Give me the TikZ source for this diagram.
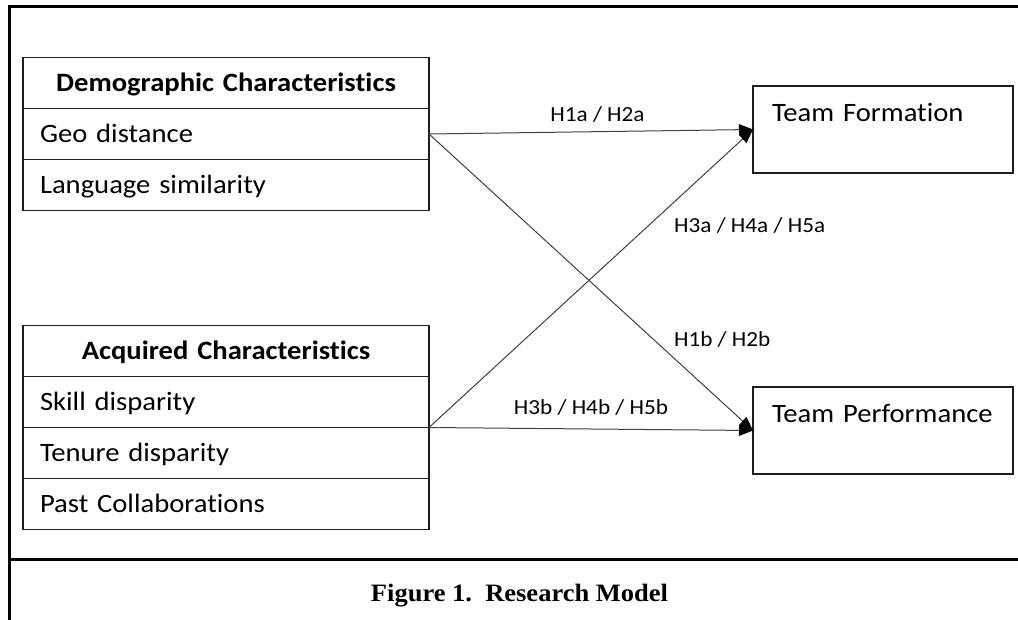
\documentclass[tikz,border=0pt]{standalone}
\usepackage{fontspec}
\setmainfont{Carlito}[FakeStretch=1.08,Ligatures=NoCommon]
\newfontfamily\capfont{Liberation Serif}[FakeStretch=1.06]
\usetikzlibrary{arrows.meta,positioning}
\definecolor{cLine}{HTML}{404040}
\definecolor{cBox}{HTML}{1E1E1E}

\begin{document}
\begin{tikzpicture}[
  x=1pt,y=-1pt,
  font=\fontsize{26.5}{32}\selectfont,
  row/.style ={draw=cBox,line width=1.8pt,outer sep=0pt,text width=372pt,
               inner xsep=17pt,inner ysep=0pt,text height=34pt,text depth=17pt,align=left},
  head/.style={row,align=center,font=\fontsize{26.5}{32}\selectfont\bfseries},
  outc/.style={draw=cBox,line width=1.8pt,outer sep=0pt,text width=222pt,
               inner xsep=19pt,inner ysep=0pt,text height=36pt,text depth=51pt,align=left},
  hyp/.style ={inner sep=0pt,text depth=0pt,font=\fontsize{21.5}{26}\selectfont},
  a/.style   ={-{Triangle[length=14pt,width=11pt,color=black]},draw=cLine,line width=1pt},
  frame/.style={draw=black,line width=3pt},
]
\useasboundingbox (0,0) rectangle (1018,620);
\draw[frame] (9,620) -- (9,7) -- (1018,7);
\draw[frame] (9,559) -- (1018,559);

\node[head,anchor=north west] (demo) at (23,57.5) {Demographic Characteristics};
\node[row,below=0pt of demo] (geo) {Geo distance};
\node[row,below=0pt of geo] (lang) {Language similarity};

\node[head,anchor=north west] (acq) at (23,325.5) {Acquired Characteristics};
\node[row,below=0pt of acq] (skill) {Skill disparity};
\node[row,below=0pt of skill] (tenure) {Tenure disparity};
\node[row,below=0pt of tenure] (past) {Past Collaborations};

\node[outc,anchor=north west] (form) at (753,86) {Team Formation};
\node[outc,anchor=north west] (perf) at (753,387) {Team Performance};

\draw[a] (geo.east) -- node[hyp,pos=0.52,above=10pt]{H1a / H2a} (form.west);
\draw[a] (geo.east) -- node[hyp,pos=0.69,right=21pt]{H1b / H2b} (perf.west);
\draw[a] (skill.south east) -- node[hyp,pos=0.681,right=24pt]{H3a / H4a / H5a} (form.west);
\draw[a] (skill.south east) -- node[hyp,pos=0.5,above=14pt]{H3b / H4b / H5b} (perf.west);

\node[font=\capfont\fontsize{25}{30}\selectfont\bfseries,anchor=base] (cap) at (519.5,601)
  {Figure 1.\ \ Research Model};
\end{tikzpicture}
\end{document}
